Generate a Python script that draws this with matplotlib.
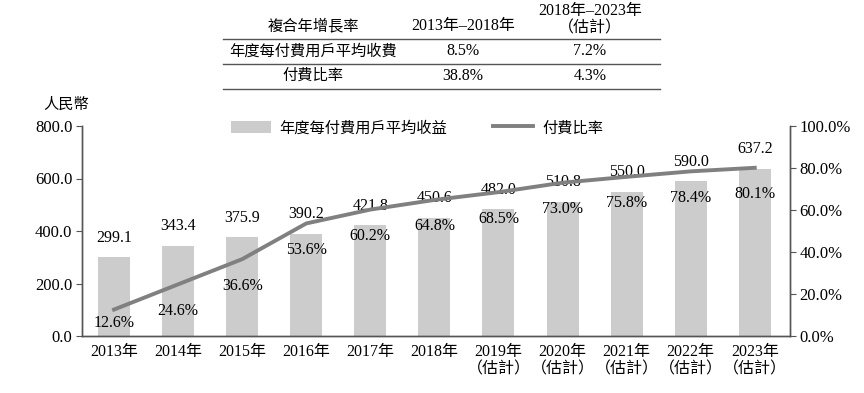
import matplotlib
matplotlib.use('Agg')
import matplotlib.pyplot as plt
from matplotlib.lines import Line2D

plt.rcParams['font.family'] = ['Liberation Serif', 'Noto Sans CJK TC', 'DejaVu Sans']

years = ['2013年', '2014年', '2015年', '2016年', '2017年', '2018年',
         '2019年\n（估計）', '2020年\n（估計）', '2021年\n（估計）', '2022年\n（估計）', '2023年\n（估計）']
arpu = [299.1, 343.4, 375.9, 390.2, 421.8, 450.6, 482.0, 510.8, 550.0, 590.0, 637.2]
pay_rate = [12.6, 24.6, 36.6, 53.6, 60.2, 64.8, 68.5, 73.0, 75.8, 78.4, 80.1]

tbl_header = ['複合年增長率', '2013年–2018年', '2018年–2023年\n（估計）']
tbl_rows = [['年度每付費用戶平均收費', '8.5%', '7.2%'],
            ['付費比率', '38.8%', '4.3%']]

W, H = 864, 393
fig = plt.figure(figsize=(W / 100, H / 100), dpi=100)
ax = fig.add_axes([82 / W, 1 - 336 / H, (790 - 82) / W, (336 - 126) / H])
ax2 = ax.twinx()

x = list(range(len(years)))
bars = ax.bar(x, arpu, width=0.5, color='#cccccc', label='年度每付費用戶平均收益', zorder=1)
line, = ax2.plot(x, pay_rate, color='#808080', lw=2.8, label='付費比率', zorder=6)

ax.set_xlim(-0.5, 10.55)
ax.set_ylim(0, 800)
ax2.set_ylim(0, 100)
ax.set_yticks([0, 200, 400, 600, 800])
ax.set_yticklabels([f'{v:.1f}' for v in [0, 200, 400, 600, 800]])
ax2.set_yticks([0, 20, 40, 60, 80, 100])
ax2.set_yticklabels([f'{v:.1f}%' for v in [0, 20, 40, 60, 80, 100]])
ax.set_xticks(x)
ax.set_xticklabels(years, fontsize=11.5, linespacing=1.1)

axis_col = '#555555'
for a in (ax, ax2):
    a.spines['top'].set_visible(False)
    for s in ('left', 'right', 'bottom'):
        a.spines[s].set_color(axis_col)
        a.spines[s].set_linewidth(1.0)
ax.tick_params(axis='x', length=0, pad=6)
ax.tick_params(axis='y', length=4, color=axis_col, labelsize=12, pad=3)
ax2.tick_params(axis='y', length=4, color=axis_col, labelsize=12, pad=3)

# value labels
for i, v in enumerate(arpu):
    ax.annotate(f'{v:.1f}', (i, v), xytext=(0, 14), textcoords='offset points',
                ha='center', va='center', fontsize=11.5, zorder=5)
for i, v in enumerate(pay_rate):
    off = -10 if i == 0 else -19
    ax2.annotate(f'{v:.1f}%', (i, v), xytext=(0, off), textcoords='offset points',
                 ha='center', va='center', fontsize=11.5, zorder=5)

ax2.set_zorder(ax.get_zorder() + 1)
ax2.patch.set_visible(False)

fig.text(43 / W, 1 - 105 / H, '人民幣', ha='left', va='center', fontsize=11)

ax.legend([bars, line], ['年度每付費用戶平均收益', '付費比率'], loc='center',
          bbox_to_anchor=((417 - 82) / (790 - 82), (336 - 128) / (336 - 126)),
          ncol=2, frameon=False, fontsize=11, handlelength=2.6, handleheight=0.9,
          columnspacing=3.0, handletextpad=0.6)

# CAGR table at the top
col_x = [313, 463, 590]
fig.text(col_x[0] / W, 1 - 26 / H, tbl_header[0], ha='center', va='center', fontsize=11)
fig.text(col_x[1] / W, 1 - 26 / H, tbl_header[1], ha='center', va='center', fontsize=11.5)
fig.text(col_x[2] / W, 1 - 20 / H, tbl_header[2], ha='center', va='center', fontsize=11.5,
         linespacing=1.15)
row_y = [51, 76]
for r, row in enumerate(tbl_rows):
    for c, txt in enumerate(row):
        fig.text(col_x[c] / W, 1 - row_y[r] / H, txt, ha='center', va='center',
                 fontsize=11 if c == 0 else 11.5)
for yy in (38.5, 63.5, 88.5):
    fig.add_artist(Line2D([223 / W, 660 / W], [1 - yy / H, 1 - yy / H],
                          color='#555555', lw=1.0))

fig.savefig('out.png', dpi=100)
